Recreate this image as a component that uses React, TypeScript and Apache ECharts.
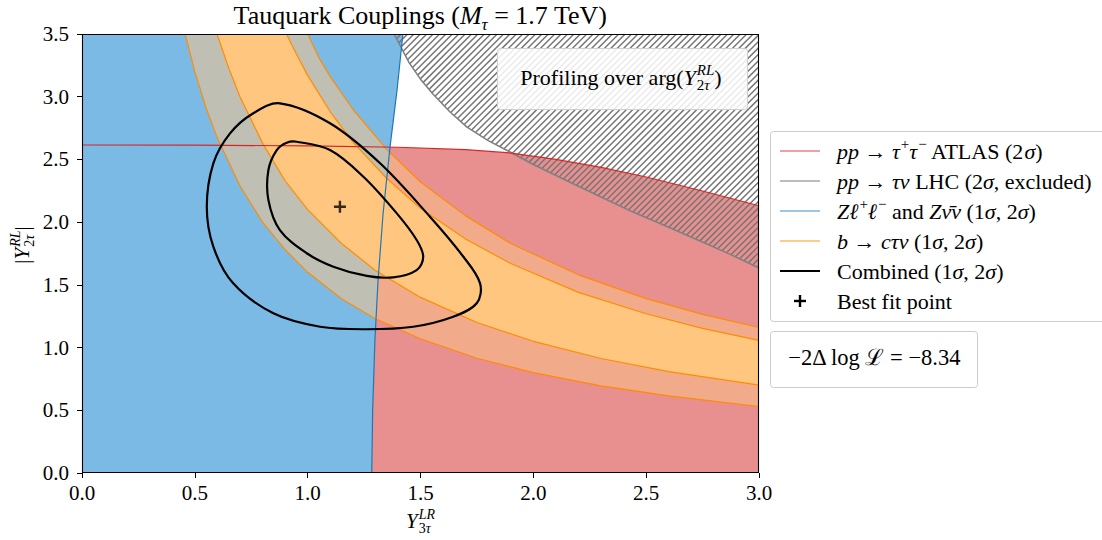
import React, { useEffect, useRef } from "react";
import * as echarts from "echarts";

type P = [number, number];

const FONT = "'Liberation Serif', 'Times New Roman', serif";

// axes
const xMin = 0, xMax = 3, xStep = 0.5;
const yMin = 0, yMax = 3.5, yStep = 0.5;

// pp -> tau tau ATLAS (2 sigma) boundary, allowed below
const atlasBoundary: P[] = [
  [0, 2.615], [0.5, 2.614], [1.0, 2.608], [1.4, 2.597], [1.7, 2.578], [1.9, 2.551],
  [2.1, 2.5], [2.3, 2.437], [2.5, 2.36], [2.75, 2.248], [3.0, 2.131],
];
// pp -> tau nu LHC (2 sigma) boundary, excluded above
const lhcBoundary: P[] = [
  [1.383, 3.5], [1.45, 3.27], [1.5, 3.14], [1.555, 3.022], [1.63, 2.88], [1.706, 2.758],
  [1.8, 2.65], [1.897, 2.559], [2.0, 2.46], [2.149, 2.33], [2.3, 2.2], [2.442, 2.08],
  [2.6, 1.96], [2.739, 1.85], [2.87, 1.745], [3.0, 1.635],
];
// Z l+l- and Z nu nu boundary, allowed to the left
const zBoundary: P[] = [
  [1.284, 0], [1.288, 0.5], [1.298, 1.06], [1.312, 1.54], [1.334, 2.065],
  [1.365, 2.6], [1.396, 3.053], [1.422, 3.5],
];
// b -> c tau nu bands
const bctnOuterLow: P[] = [
  [0.457, 3.5], [0.5, 3.2], [0.55, 2.91], [0.6, 2.67], [0.7, 2.29], [0.8, 2.0], [0.9, 1.78],
  [1.0, 1.6], [1.15, 1.39], [1.3, 1.23], [1.5, 1.07], [1.75, 0.915], [2.0, 0.8],
  [2.3, 0.695], [2.6, 0.615], [3.0, 0.53],
];
const bctnInnerLow: P[] = [
  [0.598, 3.5], [0.65, 3.23], [0.7, 3.0], [0.8, 2.63], [0.9, 2.33], [1.0, 2.1], [1.15, 1.83],
  [1.3, 1.615], [1.5, 1.4], [1.75, 1.2], [2.0, 1.05], [2.3, 0.913], [2.6, 0.808], [3.0, 0.7],
];
const bctnInnerHigh: P[] = [
  [0.906, 3.5], [0.95, 3.34], [1.0, 3.17], [1.1, 2.88], [1.2, 2.64], [1.35, 2.35], [1.5, 2.11],
  [1.7, 1.865], [1.9, 1.67], [2.2, 1.44], [2.5, 1.27], [2.75, 1.153], [3.0, 1.057],
];
const bctnOuterHigh: P[] = [
  [1.0, 3.5], [1.05, 3.31], [1.1, 3.16], [1.2, 2.9], [1.35, 2.58], [1.5, 2.32], [1.7, 2.05],
  [1.9, 1.83], [2.2, 1.58], [2.5, 1.39], [2.75, 1.265], [3.0, 1.16],
];
// combined contours
const combined2s: P[] = [
  [0.877, 2.947], [1.099, 2.788], [1.321, 2.469], [1.542, 2.043], [1.69, 1.724], [1.764, 1.512],
  [1.749, 1.353], [1.645, 1.246], [1.468, 1.166], [1.262, 1.146], [1.055, 1.166], [0.848, 1.273],
  [0.67, 1.512], [0.582, 1.804], [0.553, 2.123], [0.582, 2.469], [0.656, 2.708], [0.759, 2.868],
];
const combined1s: P[] = [
  [0.951, 2.641], [1.099, 2.575], [1.247, 2.362], [1.395, 2.07], [1.483, 1.858], [1.512, 1.724],
  [1.483, 1.618], [1.379, 1.56], [1.262, 1.571], [1.114, 1.645], [0.996, 1.752], [0.877, 1.937],
  [0.826, 2.177], [0.826, 2.416], [0.863, 2.575], [0.907, 2.633],
];
const bestFit: P[] = [[1.143, 2.123]];
const likelihoodText = "−2Δ log ℒ = −8.34";

type Seg = { t: string; it?: boolean; pos?: "sup" | "sub"; stack?: boolean };

const titleSegs: Seg[] = [
  { t: "Tauquark Couplings (" }, { t: "M", it: true }, { t: "τ", it: true, pos: "sub" }, { t: " = 1.7 TeV)" },
];
const xNameSegs: Seg[] = [
  { t: "Y", it: true }, { t: "LR", it: true, pos: "sup" }, { t: "3", pos: "sub", stack: true }, { t: "τ", it: true, pos: "sub" },
];
const yNameSegs: Seg[] = [
  { t: "|" }, { t: "Y", it: true }, { t: "RL", it: true, pos: "sup" }, { t: "2", pos: "sub", stack: true },
  { t: "τ", it: true, pos: "sub" }, { t: "|" },
];
const profilingSegs: Seg[] = [
  { t: "Profiling over arg(" }, { t: "Y", it: true }, { t: "RL", it: true, pos: "sup" },
  { t: "2", pos: "sub", stack: true }, { t: "τ", it: true, pos: "sub" }, { t: ")" },
];
const legendLabels: Seg[][] = [
  [{ t: "pp", it: true }, { t: " → " }, { t: "τ", it: true }, { t: "+", pos: "sup" }, { t: "τ", it: true }, { t: "−", pos: "sup" }, { t: " ATLAS (2" }, { t: "σ", it: true }, { t: ")" }],
  [{ t: "pp", it: true }, { t: " → " }, { t: "τν", it: true }, { t: " LHC (2" }, { t: "σ", it: true }, { t: ", excluded)" }],
  [{ t: "Zℓ", it: true }, { t: "+", pos: "sup" }, { t: "ℓ", it: true }, { t: "−", pos: "sup" }, { t: " and " }, { t: "Zν̄ν", it: true }, { t: " (1" }, { t: "σ", it: true }, { t: ", 2" }, { t: "σ", it: true }, { t: ")" }],
  [{ t: "b", it: true }, { t: " → " }, { t: "cτν", it: true }, { t: " (1" }, { t: "σ", it: true }, { t: ", 2" }, { t: "σ", it: true }, { t: ")" }],
  [{ t: "Combined (1" }, { t: "σ", it: true }, { t: ", 2" }, { t: "σ", it: true }, { t: ")" }],
  [{ t: "Best fit point" }],
];
const legendColors = ["#e0464a", "#a6a6a6", "#3b8fd0", "#ff9a1f", "#000000", "marker"];
const legendWidths = [1.2, 1.6, 1.2, 1.2, 2, 0];

let ctx2d: CanvasRenderingContext2D | null = null;
function textWidth(t: string, fs: number, it: boolean): number {
  if (!ctx2d) ctx2d = document.createElement("canvas").getContext("2d");
  if (!ctx2d) return t.length * fs * 0.5;
  ctx2d.font = `${it ? "italic " : ""}${fs}px ${FONT}`;
  return ctx2d.measureText(t).width;
}

function mathText(segs: Seg[], fs: number, ax: number, midY: number, align: "left" | "center", z = 101): any[] {
  const small = Math.round(fs * 0.66);
  let cur = 0, groupStart = 0, maxEnd = 0, inScript = false;
  const items: any[] = [];
  for (const s of segs) {
    const size = s.pos ? small : fs;
    const w = textWidth(s.t, size, !!s.it);
    if (s.stack) cur = groupStart;
    else if (s.pos && !inScript) { groupStart = cur + (s.pos === "sup" ? 1 : 0); cur = groupStart; }
    else if (!s.pos) cur = Math.max(cur, maxEnd);
    const start = cur;
    cur += w;
    maxEnd = Math.max(maxEnd, cur);
    inScript = !!s.pos;
    const dy = s.pos === "sup" ? -fs * 0.32 : s.pos === "sub" ? fs * 0.36 : 0;
    items.push({ s, start, size, dy });
  }
  const total = Math.max(cur, maxEnd);
  const x0 = align === "center" ? ax - total / 2 : ax;
  return items.map(({ s, start, size, dy }) => ({
    type: "text",
    x: x0 + start,
    y: midY + dy,
    z,
    silent: true,
    style: {
      text: s.t, fontFamily: FONT, fontSize: size, fontStyle: s.it ? "italic" : "normal", fill: "#000",
      lineHeight: size, align: "left", verticalAlign: "middle", textAlign: "left", textVerticalAlign: "middle",
    },
  }));
}

function polygonSeries(pts: P[], style: any, z: number, smooth = 0) {
  return {
    type: "custom", coordinateSystem: "cartesian2d", z, silent: true, clip: true,
    data: [[0, 0]],
    renderItem: (_p: any, api: any) => ({
      type: "polygon",
      shape: { points: pts.map((p) => api.coord(p)), smooth },
      style,
    }),
  };
}

function lineSeries(pts: P[], color: string, width: number, z: number) {
  return {
    type: "line", data: pts, showSymbol: false, symbol: "none", silent: true, z,
    lineStyle: { color, width }, clip: true,
  };
}

export default function App() {
  const ref = useRef<HTMLDivElement>(null);
  useEffect(() => {
    if (!ref.current) return;
    const chart = echarts.init(ref.current, undefined, { renderer: "svg" });

    const atlasFill: P[] = [[xMin, yMin], ...atlasBoundary, [xMax, yMin]];
    const zFill: P[] = [[xMin, yMin], ...zBoundary, [xMin, yMax]];
    const band2: P[] = [...bctnOuterLow, ...[...bctnOuterHigh].reverse()];
    const band1: P[] = [...bctnInnerLow, ...[...bctnInnerHigh].reverse()];

    const hatchSeries = {
      type: "custom", coordinateSystem: "cartesian2d", z: 5, silent: true, clip: true,
      data: [[0, 0]],
      renderItem: (params: any, api: any) => {
        const cs = params.coordSys;
        const T = cs.y, R = cs.x + cs.width;
        const pts = lhcBoundary.map((p) => api.coord(p));
        const step = 6.4;
        const kMin = pts[0][0] + pts[0][1];
        const last = pts[pts.length - 1];
        const kMax = last[0] + last[1];
        const children: any[] = [];
        for (let k = Math.ceil(kMin / step) * step; k <= kMax; k += step) {
          let bx = 0, by = 0;
          for (let i = 0; i < pts.length - 1; i++) {
            const f0 = pts[i][0] + pts[i][1], f1 = pts[i + 1][0] + pts[i + 1][1];
            if (k >= f0 && k <= f1) {
              const t = (k - f0) / (f1 - f0);
              bx = pts[i][0] + t * (pts[i + 1][0] - pts[i][0]);
              by = pts[i][1] + t * (pts[i + 1][1] - pts[i][1]);
              break;
            }
          }
          let tx = k - T, ty = T;
          if (tx > R) { tx = R; ty = k - R; }
          children.push({ type: "line", shape: { x1: bx, y1: by, x2: tx, y2: ty }, style: { stroke: "#777777", lineWidth: 1.5 } });
        }
        return { type: "group", children };
      },
    };

    const gx = 82, gy = 34, gw = 677, gh = 439;

    const legendEls: any[] = [
      { type: "rect", z: 100, silent: true, shape: { x: 770.5, y: 131.5, width: 340, height: 190, r: 3 }, style: { fill: "#ffffff", stroke: "#cccccc", lineWidth: 1 } },
    ];
    legendLabels.forEach((segs, i) => {
      const yy = 151 + i * 30;
      if (legendColors[i] === "marker") {
        legendEls.push({ type: "rect", z: 101, silent: true, shape: { x: 794, y: yy - 1.2, width: 12, height: 2.4 }, style: { fill: "#000" } });
        legendEls.push({ type: "rect", z: 101, silent: true, shape: { x: 798.8, y: yy - 6, width: 2.4, height: 12 }, style: { fill: "#000" } });
      } else {
        legendEls.push({ type: "line", z: 101, silent: true, shape: { x1: 780, y1: yy, x2: 820, y2: yy }, style: { stroke: legendColors[i], lineWidth: legendWidths[i] } });
      }
      legendEls.push(...mathText(segs, 22, 837, yy, "left"));
    });

    const option: any = {
      animation: false,
      grid: { left: gx, top: gy, width: gw, height: gh, containLabel: false },
      xAxis: {
        type: "value", min: xMin, max: xMax, interval: xStep,
        axisLine: { show: false },
        axisTick: { show: true, length: 5, lineStyle: { color: "#000", width: 1 } },
        axisLabel: { formatter: (v: number) => v.toFixed(1), fontFamily: FONT, fontSize: 21, color: "#000", margin: 9 },
        splitLine: { show: false },
      },
      yAxis: {
        type: "value", min: yMin, max: yMax, interval: yStep,
        axisLine: { show: false },
        axisTick: { show: true, length: 5, lineStyle: { color: "#000", width: 1 } },
        axisLabel: { formatter: (v: number) => v.toFixed(1), fontFamily: FONT, fontSize: 21, color: "#000", margin: 13 },
        splitLine: { show: false },
      },
      series: [
        polygonSeries(atlasFill, { fill: "#e88f8f" }, 1),
        polygonSeries(zFill, { fill: "#7cbae6" }, 2),
        polygonSeries(band2, { fill: "rgba(251,197,135,0.53)" }, 3),
        polygonSeries(band1, { fill: "#fec67f" }, 4),
        hatchSeries,
        lineSeries(lhcBoundary, "#808080", 1.6, 6),
        lineSeries(bctnOuterLow, "#ff8c00", 1.2, 7),
        lineSeries(bctnInnerLow, "#ff8c00", 1.2, 7),
        lineSeries(bctnInnerHigh, "#ff8c00", 1.2, 7),
        lineSeries(bctnOuterHigh, "#ff8c00", 1.2, 7),
        lineSeries(zBoundary, "#1f77b4", 1.2, 8),
        lineSeries(atlasBoundary, "#d62728", 1.2, 9),
        polygonSeries(combined2s, { fill: "none", stroke: "#000", lineWidth: 2.2 }, 10, 0.35),
        polygonSeries(combined1s, { fill: "none", stroke: "#000", lineWidth: 2.2 }, 10, 0.35),
        {
          type: "scatter", data: bestFit, z: 11, silent: true,
          symbol: "path://M4,0H6V4H10V6H6V10H4V6H0V4H4Z", symbolSize: 12,
          itemStyle: { color: "#000" },
        },
      ],
      graphic: [
        { type: "rect", z: 100, silent: true, shape: { x: gx + 0.5, y: gy + 0.5, width: gw - 1, height: gh - 1 }, style: { fill: "none", stroke: "#000", lineWidth: 1.1 } },
        { type: "rect", z: 100, silent: true, shape: { x: 497.5, y: 48.5, width: 250, height: 61, r: 3 }, style: { fill: "rgba(255,255,255,0.85)", stroke: "#d0d0d0", lineWidth: 1 } },
        ...mathText(profilingSegs, 22, 621, 77, "center"),
        ...mathText(titleSegs, 26, 420.5, 15, "center"),
        ...mathText(xNameSegs, 21, 420.5, 521, "center"),
        { type: "group", x: 22, y: 245, rotation: Math.PI / 2, z: 101, children: mathText(yNameSegs, 21, 0, 0, "center") },
        ...legendEls,
        { type: "rect", z: 100, silent: true, shape: { x: 770.5, y: 331.5, width: 207, height: 56, r: 3 }, style: { fill: "#ffffff", stroke: "#cccccc", lineWidth: 1 } },
        ...mathText([{ t: likelihoodText }], 22.5, 875, 357, "center"),
      ],
    };
    chart.setOption(option);
    return () => chart.dispose();
  }, []);
  return <div ref={ref} style={{ position: "absolute", left: 0, top: 0, width: 1102, height: 540 }} />;
}
